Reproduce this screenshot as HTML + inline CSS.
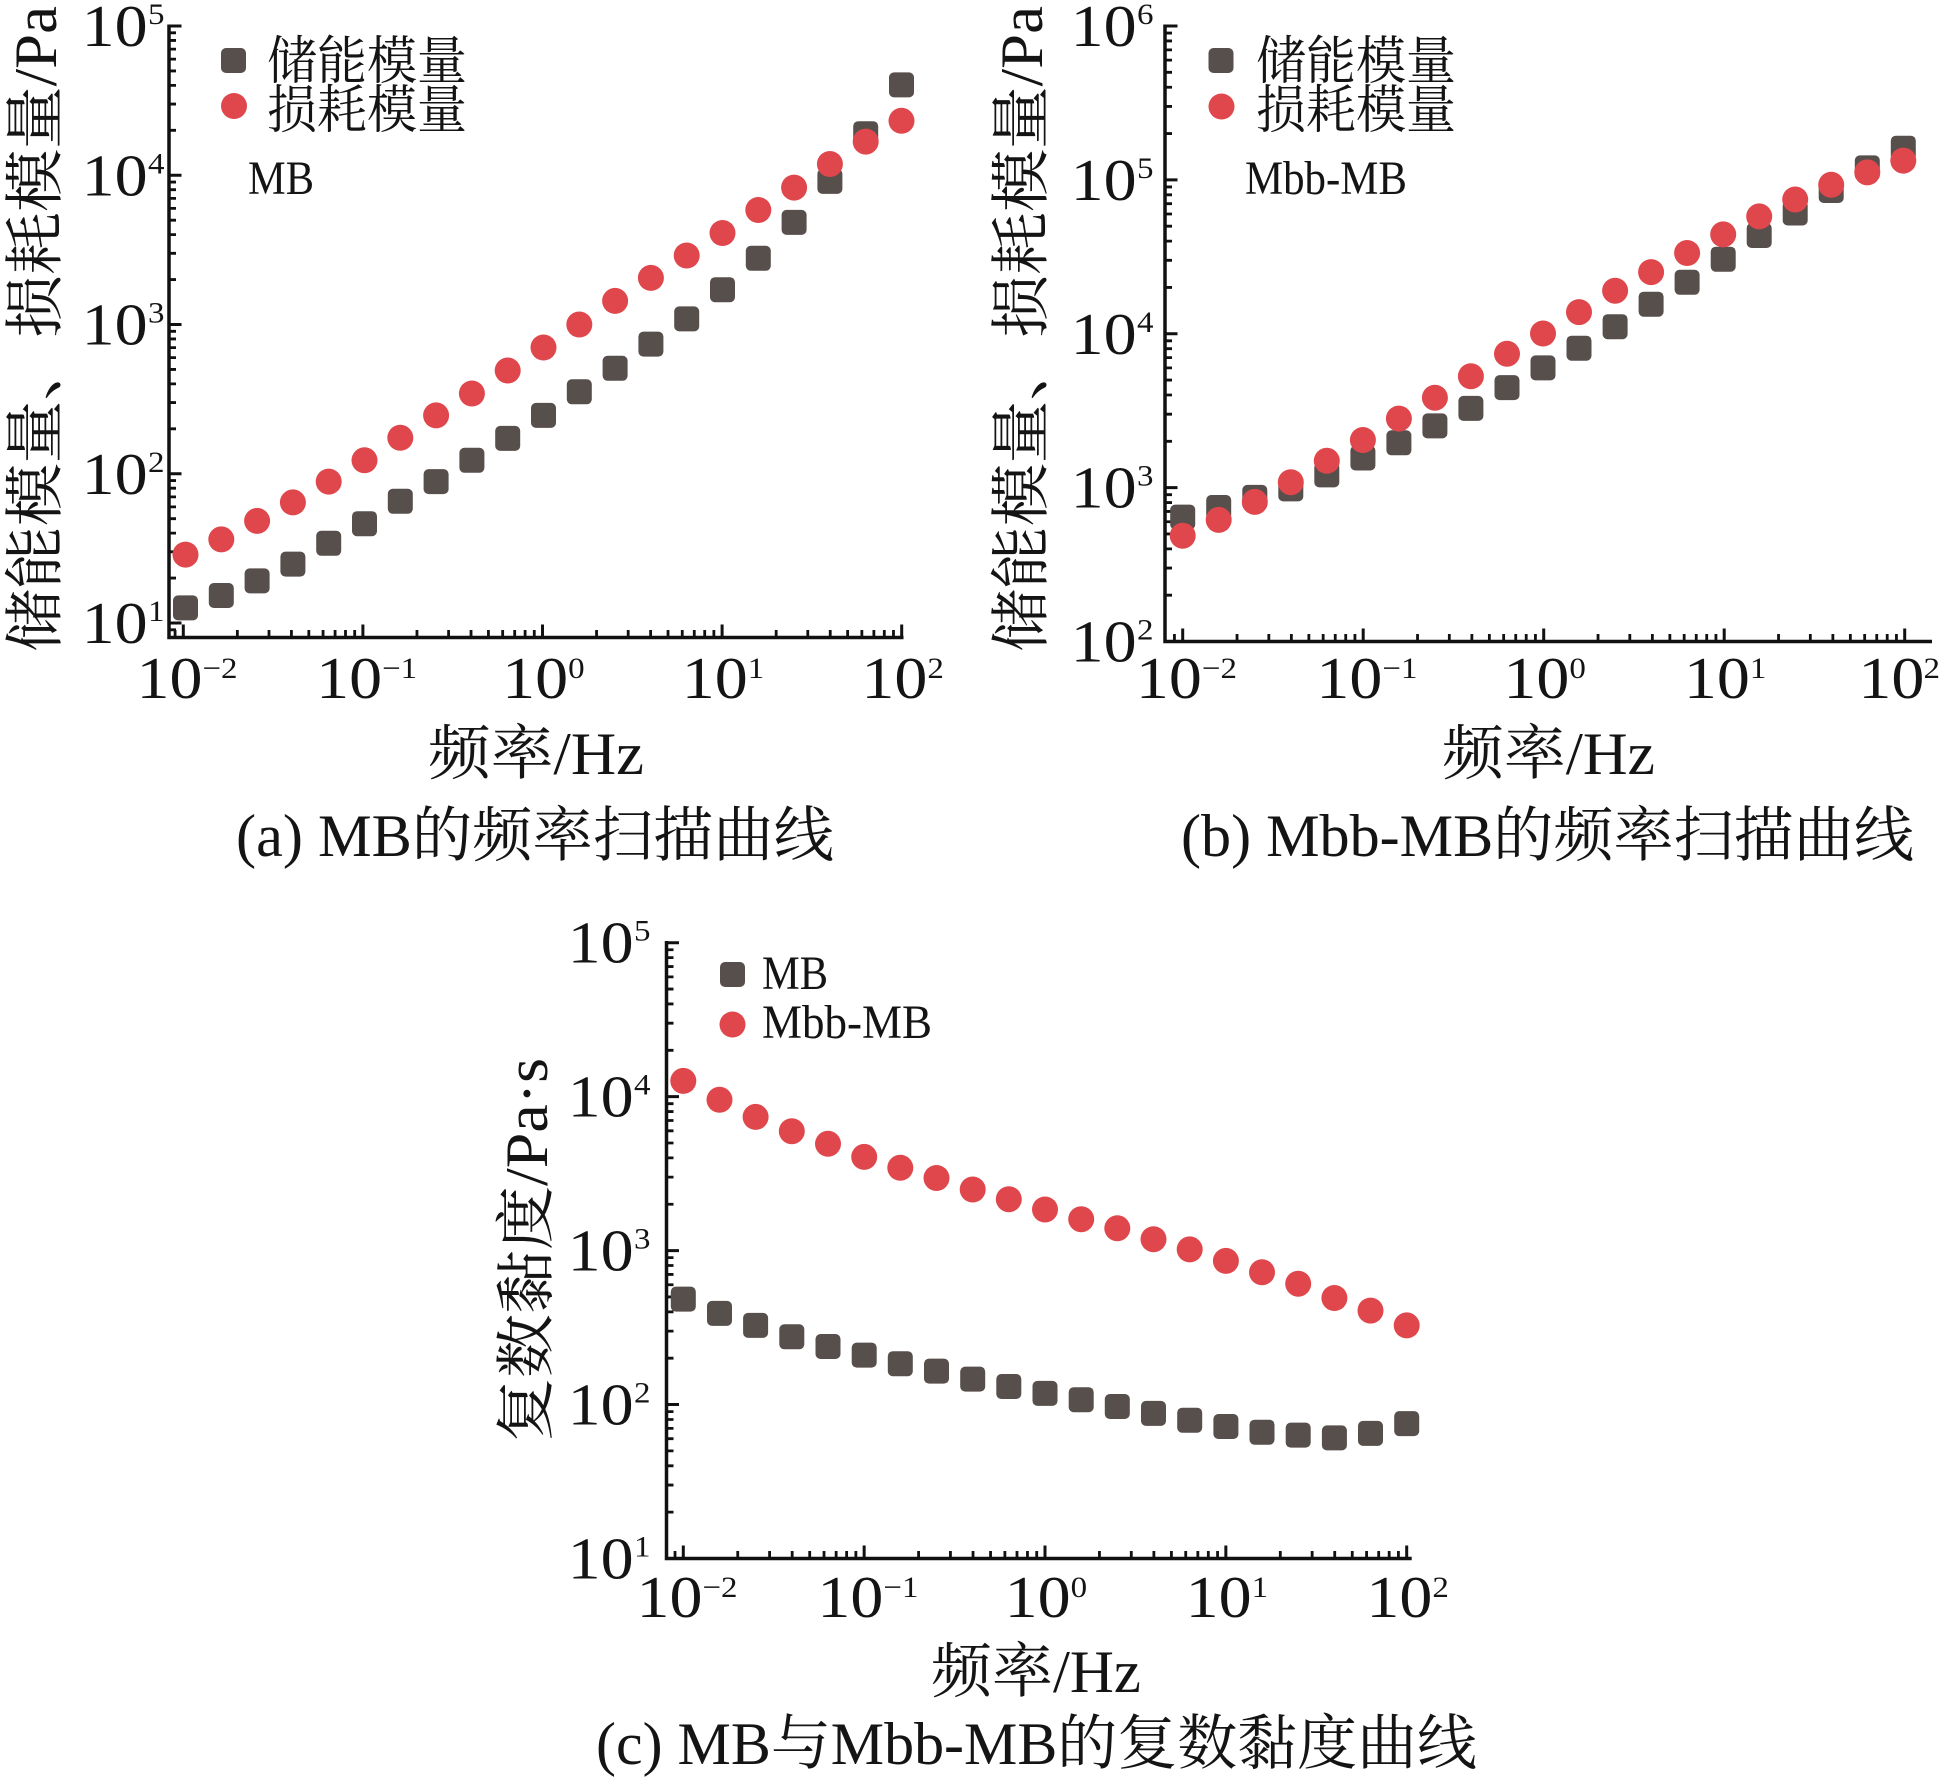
<!DOCTYPE html>
<html><head><meta charset="utf-8"><style>
html,body{margin:0;padding:0;background:#fff;}
svg{display:block;}
text{font-family:"Liberation Serif","Noto Serif CJK SC",serif;fill:#141414;}
</style></head><body>
<svg xmlns="http://www.w3.org/2000/svg" width="1941" height="1778" viewBox="0 0 1941 1778">
<rect width="1941" height="1778" fill="#fff"/>

<!-- ================= Chart A ================= -->
<g stroke="#111" fill="none">
<path stroke-width="3.5" d="M169,24.5V639.25M167.25,637.5H903.5"/>
<path stroke-width="3" d="M169,26H181.5M169,175.25H181.5M169,324.5H181.5M169,473.75H181.5M169,623H181.5
M183.3,637.5V624.5M362.9,637.5V624.5M542.5,637.5V624.5M722.1,637.5V624.5M901.7,637.5V624.5"/>
<path stroke-width="2.8" d="M169,32.83H176M169,40.46H176M169,49.12H176M169,59.11H176M169,70.93H176M169,85.39H176M169,104.04H176M169,130.32H176
M169,182.08H176M169,189.71H176M169,198.37H176M169,208.36H176M169,220.18H176M169,234.64H176M169,253.29H176M169,279.57H176
M169,331.33H176M169,338.96H176M169,347.62H176M169,357.61H176M169,369.43H176M169,383.89H176M169,402.54H176M169,428.82H176
M169,480.58H176M169,488.21H176M169,496.87H176M169,506.86H176M169,518.68H176M169,533.14H176M169,551.79H176M169,578.07H176
M169,629.83H176
M175.08,637.5V630M237.36,637.5V630M268.99,637.5V630M291.43,637.5V630M308.83,637.5V630M323.06,637.5V630M335.08,637.5V630M345.5,637.5V630M354.68,637.5V630
M416.96,637.5V630M448.59,637.5V630M471.03,637.5V630M488.43,637.5V630M502.66,637.5V630M514.68,637.5V630M525.1,637.5V630M534.28,637.5V630
M596.56,637.5V630M628.19,637.5V630M650.63,637.5V630M668.03,637.5V630M682.26,637.5V630M694.28,637.5V630M704.7,637.5V630M713.88,637.5V630
M776.16,637.5V630M807.79,637.5V630M830.23,637.5V630M847.63,637.5V630M861.86,637.5V630M873.88,637.5V630M884.3,637.5V630M893.48,637.5V630"/>
</g>
<g fill="#574f4c">
<rect x="173" y="595.4" width="25" height="25" rx="5"/><rect x="208.8" y="583" width="25" height="25" rx="5"/><rect x="244.6" y="568.4" width="25" height="25" rx="5"/><rect x="280.4" y="551.6" width="25" height="25" rx="5"/><rect x="316.2" y="530.8" width="25" height="25" rx="5"/><rect x="352" y="511.2" width="25" height="25" rx="5"/><rect x="387.8" y="488.8" width="25" height="25" rx="5"/><rect x="423.6" y="469.1" width="25" height="25" rx="5"/><rect x="459.4" y="447.8" width="25" height="25" rx="5"/><rect x="495.2" y="425.9" width="25" height="25" rx="5"/><rect x="531" y="402.9" width="25" height="25" rx="5"/><rect x="566.8" y="379.3" width="25" height="25" rx="5"/><rect x="602.6" y="355.8" width="25" height="25" rx="5"/><rect x="638.4" y="331.6" width="25" height="25" rx="5"/><rect x="674.2" y="306.4" width="25" height="25" rx="5"/><rect x="710" y="277.2" width="25" height="25" rx="5"/><rect x="745.8" y="245.8" width="25" height="25" rx="5"/><rect x="781.6" y="209.9" width="25" height="25" rx="5"/><rect x="817.4" y="168.9" width="25" height="25" rx="5"/><rect x="853.2" y="121.2" width="25" height="25" rx="5"/><rect x="889" y="72.4" width="25" height="25" rx="5"/>
<rect x="221" y="48" width="25" height="25" rx="5"/>
</g>
<g fill="#e0474c">
<circle cx="185.5" cy="554.6" r="13"/><circle cx="221.3" cy="539.4" r="13"/><circle cx="257.1" cy="520.9" r="13"/><circle cx="292.9" cy="502.4" r="13"/><circle cx="328.7" cy="481.6" r="13"/><circle cx="364.5" cy="460.3" r="13"/><circle cx="400.3" cy="437.8" r="13"/><circle cx="436.1" cy="415.4" r="13"/><circle cx="471.9" cy="393.5" r="13"/><circle cx="507.7" cy="370.5" r="13"/><circle cx="543.5" cy="347.5" r="13"/><circle cx="579.3" cy="324.5" r="13"/><circle cx="615.1" cy="300.9" r="13"/><circle cx="650.9" cy="277.9" r="13"/><circle cx="686.7" cy="255.5" r="13"/><circle cx="722.5" cy="233" r="13"/><circle cx="758.3" cy="210" r="13"/><circle cx="794.1" cy="187.6" r="13"/><circle cx="829.9" cy="164" r="13"/><circle cx="865.7" cy="141.6" r="13"/><circle cx="901.5" cy="120.8" r="13"/>
<circle cx="234" cy="106" r="13"/>
</g>
<!-- A y tick labels -->
<g font-size="59">
<text x="81.6" y="46" textLength="66" lengthAdjust="spacingAndGlyphs">10</text>
<text x="81.6" y="195.25" textLength="66" lengthAdjust="spacingAndGlyphs">10</text>
<text x="81.6" y="344.5" textLength="66" lengthAdjust="spacingAndGlyphs">10</text>
<text x="81.6" y="493.75" textLength="66" lengthAdjust="spacingAndGlyphs">10</text>
<text x="81.6" y="643" textLength="66" lengthAdjust="spacingAndGlyphs">10</text>
</g>
<g font-size="30">
<text x="148" y="24" textLength="16.5" lengthAdjust="spacingAndGlyphs">5</text>
<text x="148" y="173.25" textLength="16.5" lengthAdjust="spacingAndGlyphs">4</text>
<text x="148" y="322.5" textLength="16.5" lengthAdjust="spacingAndGlyphs">3</text>
<text x="148" y="471.75" textLength="16.5" lengthAdjust="spacingAndGlyphs">2</text>
<text x="148" y="621" textLength="16.5" lengthAdjust="spacingAndGlyphs">1</text>
</g>
<!-- A x tick labels -->
<g font-size="59">
<text x="136.5" y="698" textLength="66" lengthAdjust="spacingAndGlyphs">10</text>
<text x="316.1" y="698" textLength="66" lengthAdjust="spacingAndGlyphs">10</text>
<text x="502.2" y="698" textLength="66" lengthAdjust="spacingAndGlyphs">10</text>
<text x="681.8" y="698" textLength="66" lengthAdjust="spacingAndGlyphs">10</text>
<text x="861.4" y="698" textLength="66" lengthAdjust="spacingAndGlyphs">10</text>
</g>
<g font-size="30">
<text x="202.5" y="678" textLength="35" lengthAdjust="spacingAndGlyphs">−2</text>
<text x="382.1" y="678" textLength="35" lengthAdjust="spacingAndGlyphs">−1</text>
<text x="568.2" y="678" textLength="16.5" lengthAdjust="spacingAndGlyphs">0</text>
<text x="747.8" y="678" textLength="16.5" lengthAdjust="spacingAndGlyphs">1</text>
<text x="927.4" y="678" textLength="16.5" lengthAdjust="spacingAndGlyphs">2</text>
</g>
<g font-size="52">
<text x="267" y="79" textLength="200" lengthAdjust="spacingAndGlyphs">储能模量</text>
<text x="267" y="128" textLength="200" lengthAdjust="spacingAndGlyphs">损耗模量</text>
</g>
<text x="248" y="194" font-size="48" textLength="66" lengthAdjust="spacingAndGlyphs">MB</text>
<text transform="translate(56,652) rotate(-90)" x="0" y="0" font-size="60" textLength="646" lengthAdjust="spacingAndGlyphs">储能模量、损耗模量/Pa</text>
<text x="428" y="774" font-size="60" textLength="216" lengthAdjust="spacingAndGlyphs">频率/Hz</text>
<text x="236" y="856" font-size="60" textLength="598" lengthAdjust="spacingAndGlyphs">(a) MB的频率扫描曲线</text>

<!-- ================= Chart B ================= -->
<g stroke="#111" fill="none">
<path stroke-width="3.5" d="M1165,24.5V643.25M1163.25,641.5H1932"/>
<path stroke-width="3" d="M1165,26H1177.5M1165,179.875H1177.5M1165,333.75H1177.5M1165,487.625H1177.5
M1182.7,641.5V628.5M1363.2,641.5V628.5M1543.7,641.5V628.5M1724.2,641.5V628.5M1904.7,641.5V628.5"/>
<path stroke-width="2.8" d="M1165,33.05H1172M1165,40.92H1172M1165,49.84H1172M1165,60.14H1172M1165,72.33H1172M1165,87.24H1172M1165,106.46H1172M1165,133.56H1172
M1165,186.92H1172M1165,194.79H1172M1165,203.71H1172M1165,214.01H1172M1165,226.2H1172M1165,241.11H1172M1165,260.33H1172M1165,287.43H1172
M1165,340.8H1172M1165,348.67H1172M1165,357.59H1172M1165,367.89H1172M1165,380.08H1172M1165,394.99H1172M1165,414.21H1172M1165,441.31H1172
M1165,494.67H1172M1165,502.54H1172M1165,511.46H1172M1165,521.76H1172M1165,533.95H1172M1165,548.86H1172M1165,568.08H1172M1165,595.18H1172
M1174.44,641.5V634M1237.04,641.5V634M1268.82,641.5V634M1291.37,641.5V634M1308.86,641.5V634M1323.16,641.5V634M1335.24,641.5V634M1345.71,641.5V634M1354.94,641.5V634
M1417.54,641.5V634M1449.32,641.5V634M1471.87,641.5V634M1489.36,641.5V634M1503.66,641.5V634M1515.74,641.5V634M1526.21,641.5V634M1535.44,641.5V634
M1598.04,641.5V634M1629.82,641.5V634M1652.37,641.5V634M1669.86,641.5V634M1684.16,641.5V634M1696.24,641.5V634M1706.71,641.5V634M1715.94,641.5V634
M1778.54,641.5V634M1810.32,641.5V634M1832.87,641.5V634M1850.36,641.5V634M1864.66,641.5V634M1876.74,641.5V634M1887.21,641.5V634M1896.44,641.5V634"/>
</g>
<g fill="#574f4c">
<rect x="1170.2" y="504.6" width="25" height="25" rx="5"/><rect x="1206.2" y="495" width="25" height="25" rx="5"/><rect x="1242.3" y="484.9" width="25" height="25" rx="5"/><rect x="1278.3" y="476.4" width="25" height="25" rx="5"/><rect x="1314.3" y="462.4" width="25" height="25" rx="5"/><rect x="1350.4" y="445.5" width="25" height="25" rx="5"/><rect x="1386.4" y="430.3" width="25" height="25" rx="5"/><rect x="1422.4" y="413.4" width="25" height="25" rx="5"/><rect x="1458.4" y="395.9" width="25" height="25" rx="5"/><rect x="1494.5" y="375.1" width="25" height="25" rx="5"/><rect x="1530.5" y="355.4" width="25" height="25" rx="5"/><rect x="1566.5" y="335.7" width="25" height="25" rx="5"/><rect x="1602.6" y="314.2" width="25" height="25" rx="5"/><rect x="1638.6" y="291.7" width="25" height="25" rx="5"/><rect x="1674.6" y="269.8" width="25" height="25" rx="5"/><rect x="1710.7" y="246.7" width="25" height="25" rx="5"/><rect x="1746.7" y="223" width="25" height="25" rx="5"/><rect x="1782.7" y="200.5" width="25" height="25" rx="5"/><rect x="1818.7" y="178" width="25" height="25" rx="5"/><rect x="1854.8" y="155.4" width="25" height="25" rx="5"/><rect x="1890.8" y="135.7" width="25" height="25" rx="5"/>
<rect x="1208.5" y="48" width="25" height="25" rx="5"/>
</g>
<g fill="#e0474c">
<circle cx="1182.7" cy="535.7" r="13"/><circle cx="1218.7" cy="519.9" r="13"/><circle cx="1254.8" cy="501.9" r="13"/><circle cx="1290.8" cy="482.2" r="13"/><circle cx="1326.8" cy="460.8" r="13"/><circle cx="1362.9" cy="440" r="13"/><circle cx="1398.9" cy="418.6" r="13"/><circle cx="1434.9" cy="397.7" r="13"/><circle cx="1470.9" cy="376.3" r="13"/><circle cx="1507" cy="353.8" r="13"/><circle cx="1543" cy="333.5" r="13"/><circle cx="1579" cy="312.1" r="13"/><circle cx="1615.1" cy="290.7" r="13"/><circle cx="1651.1" cy="272.1" r="13"/><circle cx="1687.1" cy="253" r="13"/><circle cx="1723.2" cy="234.4" r="13"/><circle cx="1759.2" cy="216.4" r="13"/><circle cx="1795.2" cy="199.5" r="13"/><circle cx="1831.2" cy="184.8" r="13"/><circle cx="1867.3" cy="172.4" r="13"/><circle cx="1903.3" cy="160.6" r="13"/>
<circle cx="1221.5" cy="106.5" r="13"/>
</g>
<g font-size="59">
<text x="1070.6" y="46" textLength="66" lengthAdjust="spacingAndGlyphs">10</text>
<text x="1070.6" y="199.875" textLength="66" lengthAdjust="spacingAndGlyphs">10</text>
<text x="1070.6" y="353.75" textLength="66" lengthAdjust="spacingAndGlyphs">10</text>
<text x="1070.6" y="507.625" textLength="66" lengthAdjust="spacingAndGlyphs">10</text>
<text x="1070.6" y="661.5" textLength="66" lengthAdjust="spacingAndGlyphs">10</text>
</g>
<g font-size="30">
<text x="1137" y="24" textLength="16.5" lengthAdjust="spacingAndGlyphs">6</text>
<text x="1137" y="177.875" textLength="16.5" lengthAdjust="spacingAndGlyphs">5</text>
<text x="1137" y="331.75" textLength="16.5" lengthAdjust="spacingAndGlyphs">4</text>
<text x="1137" y="485.625" textLength="16.5" lengthAdjust="spacingAndGlyphs">3</text>
<text x="1137" y="639.5" textLength="16.5" lengthAdjust="spacingAndGlyphs">2</text>
</g>
<g font-size="59">
<text x="1135.9" y="698" textLength="66" lengthAdjust="spacingAndGlyphs">10</text>
<text x="1316.4" y="698" textLength="66" lengthAdjust="spacingAndGlyphs">10</text>
<text x="1503.4" y="698" textLength="66" lengthAdjust="spacingAndGlyphs">10</text>
<text x="1683.9" y="698" textLength="66" lengthAdjust="spacingAndGlyphs">10</text>
<text x="1858.4" y="698" textLength="66" lengthAdjust="spacingAndGlyphs">10</text>
</g>
<g font-size="30">
<text x="1201.9" y="678" textLength="35" lengthAdjust="spacingAndGlyphs">−2</text>
<text x="1382.4" y="678" textLength="35" lengthAdjust="spacingAndGlyphs">−1</text>
<text x="1569.4" y="678" textLength="16.5" lengthAdjust="spacingAndGlyphs">0</text>
<text x="1749.9" y="678" textLength="16.5" lengthAdjust="spacingAndGlyphs">1</text>
<text x="1923.5" y="678" textLength="16.5" lengthAdjust="spacingAndGlyphs">2</text>
</g>
<g font-size="52">
<text x="1256" y="79" textLength="200" lengthAdjust="spacingAndGlyphs">储能模量</text>
<text x="1256" y="128" textLength="200" lengthAdjust="spacingAndGlyphs">损耗模量</text>
</g>
<text x="1245" y="194" font-size="48" textLength="162" lengthAdjust="spacingAndGlyphs">Mbb-MB</text>
<text transform="translate(1042,652) rotate(-90)" x="0" y="0" font-size="60" textLength="646" lengthAdjust="spacingAndGlyphs">储能模量、损耗模量/Pa</text>
<text x="1442" y="774" font-size="60" textLength="213" lengthAdjust="spacingAndGlyphs">频率/Hz</text>
<text x="1181" y="856" font-size="60" textLength="733" lengthAdjust="spacingAndGlyphs">(b) Mbb-MB的频率扫描曲线</text>

<!-- ================= Chart C ================= -->
<g stroke="#111" fill="none">
<path stroke-width="3.5" d="M666.5,941V1560.25M664.75,1558.5H1411.7"/>
<path stroke-width="3" d="M666.5,942.7H679M666.5,1096.65H679M666.5,1250.6H679M666.5,1404.55H679
M683.3,1558.5V1545.5M864.15,1558.5V1545.5M1045,1558.5V1545.5M1225.85,1558.5V1545.5M1406.7,1558.5V1545.5"/>
<path stroke-width="2.8" d="M666.5,949.75H673.5M666.5,957.62H673.5M666.5,966.55H673.5M666.5,976.85H673.5M666.5,989.05H673.5M666.5,1003.96H673.5M666.5,1023.2H673.5M666.5,1050.31H673.5
M666.5,1103.7H673.5M666.5,1111.57H673.5M666.5,1120.5H673.5M666.5,1130.8H673.5M666.5,1143H673.5M666.5,1157.91H673.5M666.5,1177.15H673.5M666.5,1204.26H673.5
M666.5,1257.65H673.5M666.5,1265.52H673.5M666.5,1274.45H673.5M666.5,1284.75H673.5M666.5,1296.95H673.5M666.5,1311.86H673.5M666.5,1331.1H673.5M666.5,1358.21H673.5
M666.5,1411.6H673.5M666.5,1419.47H673.5M666.5,1428.4H673.5M666.5,1438.7H673.5M666.5,1450.9H673.5M666.5,1465.81H673.5M666.5,1485.05H673.5M666.5,1512.16H673.5
M675.02,1558.5V1551M737.74,1558.5V1551M769.59,1558.5V1551M792.18,1558.5V1551M809.71,1558.5V1551M824.03,1558.5V1551M836.14,1558.5V1551M846.62,1558.5V1551M855.87,1558.5V1551
M918.59,1558.5V1551M950.44,1558.5V1551M973.03,1558.5V1551M990.56,1558.5V1551M1004.88,1558.5V1551M1016.99,1558.5V1551M1027.47,1558.5V1551M1036.72,1558.5V1551
M1099.44,1558.5V1551M1131.29,1558.5V1551M1153.88,1558.5V1551M1171.41,1558.5V1551M1185.73,1558.5V1551M1197.84,1558.5V1551M1208.32,1558.5V1551M1217.57,1558.5V1551
M1280.29,1558.5V1551M1312.14,1558.5V1551M1334.73,1558.5V1551M1352.26,1558.5V1551M1366.58,1558.5V1551M1378.69,1558.5V1551M1389.17,1558.5V1551M1398.42,1558.5V1551"/>
</g>
<g fill="#574f4c">
<rect x="670.8" y="1286.6" width="25" height="25" rx="5"/><rect x="707" y="1300.9" width="25" height="25" rx="5"/><rect x="743.1" y="1312.9" width="25" height="25" rx="5"/><rect x="779.3" y="1324.3" width="25" height="25" rx="5"/><rect x="815.5" y="1334" width="25" height="25" rx="5"/><rect x="851.7" y="1342.6" width="25" height="25" rx="5"/><rect x="887.8" y="1351.2" width="25" height="25" rx="5"/><rect x="924" y="1358.6" width="25" height="25" rx="5"/><rect x="960.2" y="1366.6" width="25" height="25" rx="5"/><rect x="996.3" y="1374" width="25" height="25" rx="5"/><rect x="1032.5" y="1380.9" width="25" height="25" rx="5"/><rect x="1068.7" y="1387.2" width="25" height="25" rx="5"/><rect x="1104.8" y="1394" width="25" height="25" rx="5"/><rect x="1141" y="1400.9" width="25" height="25" rx="5"/><rect x="1177.2" y="1407.7" width="25" height="25" rx="5"/><rect x="1213.4" y="1414" width="25" height="25" rx="5"/><rect x="1249.5" y="1419.7" width="25" height="25" rx="5"/><rect x="1285.7" y="1422.6" width="25" height="25" rx="5"/><rect x="1321.9" y="1425.4" width="25" height="25" rx="5"/><rect x="1358" y="1420.9" width="25" height="25" rx="5"/><rect x="1394.2" y="1411.1" width="25" height="25" rx="5"/>
<rect x="720" y="962" width="25" height="25" rx="5"/>
</g>
<g fill="#e0474c">
<circle cx="683.3" cy="1080.9" r="13"/><circle cx="719.5" cy="1099.8" r="13"/><circle cx="755.6" cy="1116.9" r="13"/><circle cx="791.8" cy="1131.2" r="13"/><circle cx="828" cy="1143.8" r="13"/><circle cx="864.2" cy="1156.9" r="13"/><circle cx="900.3" cy="1167.8" r="13"/><circle cx="936.5" cy="1178" r="13"/><circle cx="972.7" cy="1189.5" r="13"/><circle cx="1008.8" cy="1199.2" r="13"/><circle cx="1045" cy="1209.5" r="13"/><circle cx="1081.2" cy="1219.2" r="13"/><circle cx="1117.3" cy="1228.3" r="13"/><circle cx="1153.5" cy="1239.2" r="13"/><circle cx="1189.7" cy="1249.4" r="13"/><circle cx="1225.9" cy="1260.9" r="13"/><circle cx="1262" cy="1272.3" r="13"/><circle cx="1298.2" cy="1283.7" r="13"/><circle cx="1334.4" cy="1298" r="13"/><circle cx="1370.5" cy="1310.6" r="13"/><circle cx="1406.7" cy="1325.4" r="13"/>
<circle cx="732.5" cy="1024.5" r="13"/>
</g>
<g font-size="59">
<text x="567.6" y="962.7" textLength="66" lengthAdjust="spacingAndGlyphs">10</text>
<text x="567.6" y="1116.65" textLength="66" lengthAdjust="spacingAndGlyphs">10</text>
<text x="567.6" y="1270.6" textLength="66" lengthAdjust="spacingAndGlyphs">10</text>
<text x="567.6" y="1424.55" textLength="66" lengthAdjust="spacingAndGlyphs">10</text>
<text x="567.6" y="1578.5" textLength="66" lengthAdjust="spacingAndGlyphs">10</text>
</g>
<g font-size="30">
<text x="634" y="940.7" textLength="16.5" lengthAdjust="spacingAndGlyphs">5</text>
<text x="634" y="1094.65" textLength="16.5" lengthAdjust="spacingAndGlyphs">4</text>
<text x="634" y="1248.6" textLength="16.5" lengthAdjust="spacingAndGlyphs">3</text>
<text x="634" y="1402.55" textLength="16.5" lengthAdjust="spacingAndGlyphs">2</text>
<text x="634" y="1556.5" textLength="16.5" lengthAdjust="spacingAndGlyphs">1</text>
</g>
<g font-size="59">
<text x="636.5" y="1617" textLength="66" lengthAdjust="spacingAndGlyphs">10</text>
<text x="817.4" y="1617" textLength="66" lengthAdjust="spacingAndGlyphs">10</text>
<text x="1004.7" y="1617" textLength="66" lengthAdjust="spacingAndGlyphs">10</text>
<text x="1185.6" y="1617" textLength="66" lengthAdjust="spacingAndGlyphs">10</text>
<text x="1366.4" y="1617" textLength="66" lengthAdjust="spacingAndGlyphs">10</text>
</g>
<g font-size="30">
<text x="702.5" y="1597" textLength="35" lengthAdjust="spacingAndGlyphs">−2</text>
<text x="883.4" y="1597" textLength="35" lengthAdjust="spacingAndGlyphs">−1</text>
<text x="1070.7" y="1597" textLength="16.5" lengthAdjust="spacingAndGlyphs">0</text>
<text x="1251.6" y="1597" textLength="16.5" lengthAdjust="spacingAndGlyphs">1</text>
<text x="1432.4" y="1597" textLength="16.5" lengthAdjust="spacingAndGlyphs">2</text>
</g>
<text x="762" y="989" font-size="48" textLength="66" lengthAdjust="spacingAndGlyphs">MB</text>
<text x="762" y="1038" font-size="48" textLength="170" lengthAdjust="spacingAndGlyphs">Mbb-MB</text>
<text transform="translate(547,1442) rotate(-90)" x="0" y="0" font-size="60" textLength="384" lengthAdjust="spacingAndGlyphs">复数黏度/Pa·s</text>
<text x="931" y="1692" font-size="60" textLength="210" lengthAdjust="spacingAndGlyphs">频率/Hz</text>
<text x="596" y="1764" font-size="60" textLength="881" lengthAdjust="spacingAndGlyphs">(c) MB与Mbb-MB的复数黏度曲线</text>
</svg>
</body></html>
